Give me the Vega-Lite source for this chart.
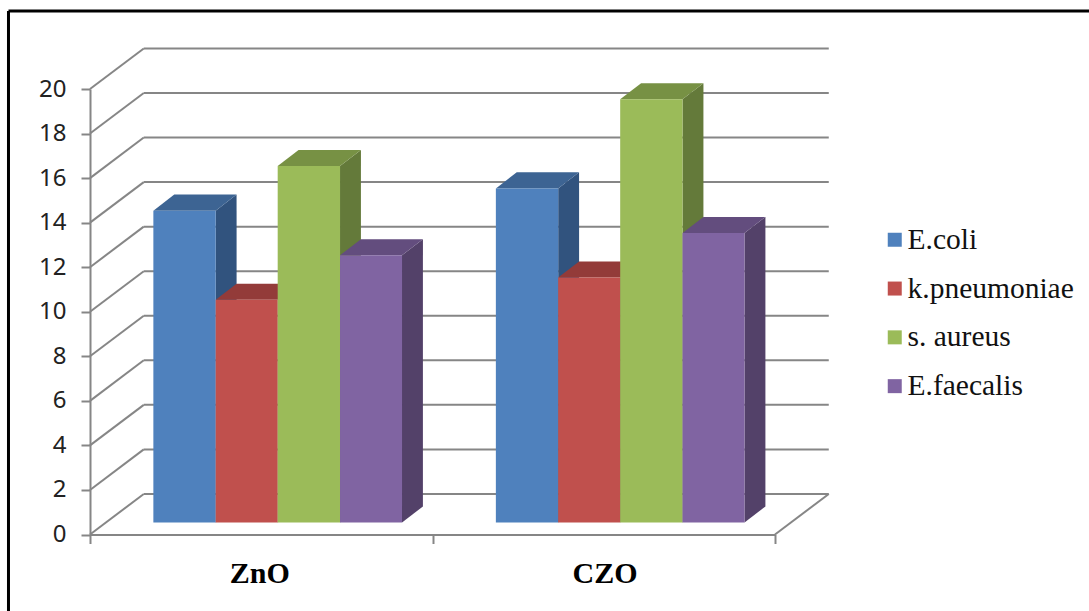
{
  "$schema": "https://vega.github.io/schema/vega-lite/v6.json",
  "width": 685,
  "height": 445.5,
  "autosize": "none",
  "padding": {"left": 90, "top": 89, "right": 314, "bottom": 76.5},
  "background": "white",
  "config": {"view": {"stroke": null}},
  "datasets": {
    "bars": [
      {"group": "ZnO", "series": "E.coli", "value": 14, "start": 0.185, "end": 0.367},
      {"group": "ZnO", "series": "k.pneumoniae", "value": 10, "start": 0.367, "end": 0.548},
      {"group": "ZnO", "series": "s. aureus", "value": 16, "start": 0.548, "end": 0.73},
      {"group": "ZnO", "series": "E.faecalis", "value": 12, "start": 0.73, "end": 0.911},
      {"group": "CZO", "series": "E.coli", "value": 15, "start": 1.185, "end": 1.367},
      {"group": "CZO", "series": "k.pneumoniae", "value": 11, "start": 1.367, "end": 1.548},
      {"group": "CZO", "series": "s. aureus", "value": 19, "start": 1.548, "end": 1.73},
      {"group": "CZO", "series": "E.faecalis", "value": 13, "start": 1.73, "end": 1.911}
    ],
    "sides": [
      {"group": "ZnO", "series": "E.coli", "x": 0.367, "upper": 14, "lower": 0},
      {"group": "ZnO", "series": "E.coli", "x": 0.428, "upper": 14.72, "lower": 0.72},
      {"group": "ZnO", "series": "k.pneumoniae", "x": 0.548, "upper": 10, "lower": 0},
      {"group": "ZnO", "series": "k.pneumoniae", "x": 0.609, "upper": 10.72, "lower": 0.72},
      {"group": "ZnO", "series": "s. aureus", "x": 0.73, "upper": 16, "lower": 0},
      {"group": "ZnO", "series": "s. aureus", "x": 0.791, "upper": 16.72, "lower": 0.72},
      {"group": "ZnO", "series": "E.faecalis", "x": 0.911, "upper": 12, "lower": 0},
      {"group": "ZnO", "series": "E.faecalis", "x": 0.972, "upper": 12.72, "lower": 0.72},
      {"group": "CZO", "series": "E.coli", "x": 1.367, "upper": 15, "lower": 0},
      {"group": "CZO", "series": "E.coli", "x": 1.428, "upper": 15.72, "lower": 0.72},
      {"group": "CZO", "series": "k.pneumoniae", "x": 1.548, "upper": 11, "lower": 0},
      {"group": "CZO", "series": "k.pneumoniae", "x": 1.609, "upper": 11.72, "lower": 0.72},
      {"group": "CZO", "series": "s. aureus", "x": 1.73, "upper": 19, "lower": 0},
      {"group": "CZO", "series": "s. aureus", "x": 1.791, "upper": 19.72, "lower": 0.72},
      {"group": "CZO", "series": "E.faecalis", "x": 1.911, "upper": 13, "lower": 0},
      {"group": "CZO", "series": "E.faecalis", "x": 1.972, "upper": 13.72, "lower": 0.72}
    ],
    "tops": [
      {"group": "ZnO", "series": "E.coli", "level": 14, "left": 0.185, "right": 0.367},
      {"group": "ZnO", "series": "E.coli", "level": 14.72, "left": 0.246, "right": 0.428},
      {"group": "ZnO", "series": "k.pneumoniae", "level": 10, "left": 0.367, "right": 0.548},
      {"group": "ZnO", "series": "k.pneumoniae", "level": 10.72, "left": 0.428, "right": 0.609},
      {"group": "ZnO", "series": "s. aureus", "level": 16, "left": 0.548, "right": 0.73},
      {"group": "ZnO", "series": "s. aureus", "level": 16.72, "left": 0.609, "right": 0.791},
      {"group": "ZnO", "series": "E.faecalis", "level": 12, "left": 0.73, "right": 0.911},
      {"group": "ZnO", "series": "E.faecalis", "level": 12.72, "left": 0.791, "right": 0.972},
      {"group": "CZO", "series": "E.coli", "level": 15, "left": 1.185, "right": 1.367},
      {"group": "CZO", "series": "E.coli", "level": 15.72, "left": 1.246, "right": 1.428},
      {"group": "CZO", "series": "k.pneumoniae", "level": 11, "left": 1.367, "right": 1.548},
      {"group": "CZO", "series": "k.pneumoniae", "level": 11.72, "left": 1.428, "right": 1.609},
      {"group": "CZO", "series": "s. aureus", "level": 19, "left": 1.548, "right": 1.73},
      {"group": "CZO", "series": "s. aureus", "level": 19.72, "left": 1.609, "right": 1.791},
      {"group": "CZO", "series": "E.faecalis", "level": 13, "left": 1.73, "right": 1.911},
      {"group": "CZO", "series": "E.faecalis", "level": 13.72, "left": 1.791, "right": 1.972}
    ],
    "walls": [
      {"tick": 0, "back": 1.82},
      {"tick": 2, "back": 3.82},
      {"tick": 4, "back": 5.82},
      {"tick": 6, "back": 7.82},
      {"tick": 8, "back": 9.82},
      {"tick": 10, "back": 11.82},
      {"tick": 12, "back": 13.82},
      {"tick": 14, "back": 15.82},
      {"tick": 16, "back": 17.82},
      {"tick": 18, "back": 19.82},
      {"tick": 20, "back": 21.82}
    ],
    "floorEdge": [{"from": 2, "to": 2.157, "near": 0, "far": 1.82}],
    "frame": [{"left": -0.238, "right": 2.934, "top": 23.5, "bottom": -3.44}],
    "categories": [
      {"group": "ZnO", "centre": 0.496},
      {"group": "CZO", "centre": 1.504}
    ]
  },
  "layer": [
    {
      "description": "Outer frame: top edge",
      "data": {"name": "frame"},
      "mark": {"type": "rule", "stroke": "#000000", "strokeWidth": 3},
      "encoding": {
        "x": {"field": "left", "type": "quantitative", "scale": {"domain": [0, 2], "nice": false, "zero": false}, "axis": {"values": [0, 1, 2], "labels": false, "title": null, "grid": false, "domainColor": "#868686", "domainWidth": 2, "tickColor": "#868686", "tickWidth": 2, "tickSize": 9}},
        "x2": {"field": "right"},
        "y": {"field": "top", "type": "quantitative", "scale": {"domain": [0, 20], "nice": false, "zero": false}, "axis": {"values": [0, 2, 4, 6, 8, 10, 12, 14, 16, 18, 20], "title": null, "grid": false, "domainColor": "#868686", "domainWidth": 2, "tickColor": "#868686", "tickWidth": 2, "tickSize": 9, "labelFont": "Noto Sans", "labelFontSize": 24, "labelColor": "#222222", "labelPadding": 15}}
      }
    },
    {
      "description": "Outer frame: left edge",
      "data": {"name": "frame"},
      "mark": {"type": "rule", "stroke": "#000000", "strokeWidth": 3},
      "encoding": {
        "x": {"field": "left", "type": "quantitative"},
        "y": {"field": "top", "type": "quantitative"},
        "y2": {"field": "bottom"}
      }
    },
    {
      "description": "Horizontal gridlines on the back wall",
      "data": {"name": "walls"},
      "mark": {"type": "rule", "stroke": "#868686", "strokeWidth": 2},
      "encoding": {
        "x": {"datum": 0.157, "type": "quantitative"},
        "x2": {"datum": 2.157},
        "y": {"field": "back", "type": "quantitative"}
      }
    },
    {
      "description": "Slanted gridlines on the side wall",
      "data": {"name": "walls"},
      "mark": {"type": "rule", "stroke": "#868686", "strokeWidth": 2},
      "encoding": {
        "x": {"datum": 0, "type": "quantitative"},
        "x2": {"datum": 0.157},
        "y": {"field": "tick", "type": "quantitative"},
        "y2": {"field": "back"}
      }
    },
    {
      "description": "Right edge of the floor",
      "data": {"name": "floorEdge"},
      "mark": {"type": "rule", "stroke": "#868686", "strokeWidth": 2},
      "encoding": {
        "x": {"field": "from", "type": "quantitative"},
        "x2": {"field": "to"},
        "y": {"field": "near", "type": "quantitative"},
        "y2": {"field": "far"}
      }
    },
    {
      "description": "Shaded right-hand faces of the columns",
      "data": {"name": "sides"},
      "mark": {"type": "area", "yOffset": -12, "y2Offset": -12, "opacity": 1},
      "encoding": {
        "x": {"field": "x", "type": "quantitative"},
        "y": {"field": "upper", "type": "quantitative", "stack": null},
        "y2": {"field": "lower"},
        "detail": {"field": "group"},
        "color": {"field": "series", "type": "nominal", "legend": null, "scale": {"domain": ["E.coli", "k.pneumoniae", "s. aureus", "E.faecalis"], "range": ["#31537E", "#7C3533", "#647A3A", "#534169"]}}
      }
    },
    {
      "description": "Top faces of the columns",
      "data": {"name": "tops"},
      "mark": {"type": "area", "orient": "horizontal", "yOffset": -12, "opacity": 1},
      "encoding": {
        "y": {"field": "level", "type": "quantitative"},
        "x": {"field": "left", "type": "quantitative", "stack": null},
        "x2": {"field": "right"},
        "detail": {"field": "group"},
        "color": {"field": "series", "type": "nominal", "legend": null, "scale": {"domain": ["E.coli", "k.pneumoniae", "s. aureus", "E.faecalis"], "range": ["#3D6493", "#933B39", "#779144", "#634D7E"]}}
      }
    },
    {
      "description": "Front faces of the columns",
      "data": {"name": "bars"},
      "mark": {"type": "rect", "yOffset": -12, "y2Offset": -12},
      "encoding": {
        "x": {"field": "start", "type": "quantitative"},
        "x2": {"field": "end"},
        "y": {"field": "value", "type": "quantitative"},
        "y2": {"datum": 0},
        "color": {
          "field": "series",
          "type": "nominal",
          "scale": {"domain": ["E.coli", "k.pneumoniae", "s. aureus", "E.faecalis"], "range": ["#4F81BD", "#C0504D", "#9BBB59", "#8064A2"]},
          "legend": {"title": null, "orient": "none", "legendX": 790, "legendY": 136, "symbolType": "square", "symbolSize": 196, "symbolStrokeWidth": 0, "symbolOpacity": 1, "labelFont": "Liberation Serif", "labelFontSize": 29.5, "labelColor": "#111111", "labelOffset": -2, "rowPadding": 17.8, "labelLimit": 300}
        }
      }
    },
    {
      "description": "Category names under the axis",
      "data": {"name": "categories"},
      "mark": {"type": "text", "font": "Liberation Serif", "fontWeight": "bold", "fontSize": 30, "baseline": "alphabetic", "align": "center", "color": "#000000"},
      "encoding": {
        "x": {"field": "centre", "type": "quantitative"},
        "y": {"datum": -2.18, "type": "quantitative"},
        "text": {"field": "group"}
      }
    }
  ],
  "resolve": {"scale": {"color": "independent"}}
}
